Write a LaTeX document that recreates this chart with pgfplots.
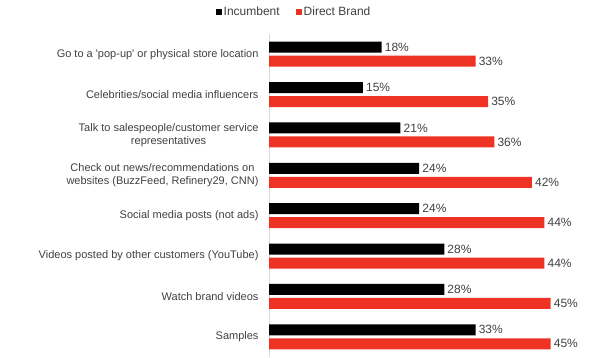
\documentclass[border=0pt]{standalone}
\usepackage{pgfplots}
\pgfplotsset{compat=1.18}
\usepackage{fontspec}
\setmainfont{Liberation Sans}[Ligatures=TeXOff]
\definecolor{dbred}{RGB}{238,50,36}
\definecolor{txt}{RGB}{64,64,64}
\definecolor{axgray}{RGB}{217,217,217}
\begin{document}
\begin{tikzpicture}
\path[use as bounding box] (0pt,0pt) rectangle (599pt,357pt);
\begin{axis}[
  at={(269pt,0pt)}, anchor=south west,
  scale only axis, width=313pt, height=323pt,
  xbar, bar width=11pt,
  xmin=0, xmax=50, ymin=-0.5, ymax=7.5,
  axis x line=none, axis y line*=left,
  y axis line style={draw=axgray, line width=0.8pt},
  ytick={0,...,7},
  yticklabels={Samples, Watch brand videos, Videos posted by other customers (YouTube), Social media posts (not ads), {Check out news/recommendations on\\websites (BuzzFeed, Refinery29, CNN)}, {Talk to salespeople/customer service\\representatives}, Celebrities/social media influencers, Go to a 'pop-up' or physical store location},
  ytick style={draw=none}, major tick length=0pt,
  yticklabel style={align=center, font=\fontsize{11}{13}\selectfont, text=txt, xshift=-7pt},
  /pgf/number format/assume math mode=true,
  point meta=x,
  nodes near coords={\pgfmathprintnumber{\pgfplotspointmeta}\%},
  nodes near coords style={font=\fontsize{12}{14}\selectfont, text=txt, anchor=west, inner sep=3pt},
  legend columns=2,
  legend style={at={(0.08,1.068)}, anchor=center, draw=none, fill=none, font=\fontsize{12}{14}\selectfont, text=txt, /tikz/every even column/.append style={column sep=14pt}},
  legend image code/.code={\path[#1,draw=none] (0pt,-3pt) rectangle (6pt,3pt);},
]
\addplot[fill=black, draw=none, bar shift=7pt] coordinates {(33,0) (28,1) (28,2) (24,3) (24,4) (21,5) (15,6) (18,7)};
\addplot[fill=dbred, draw=none, bar shift=-7pt] coordinates {(45,0) (45,1) (44,2) (44,3) (42,4) (36,5) (35,6) (33,7)};
\legend{Incumbent, Direct Brand}
\end{axis}
\end{tikzpicture}
\end{document}
